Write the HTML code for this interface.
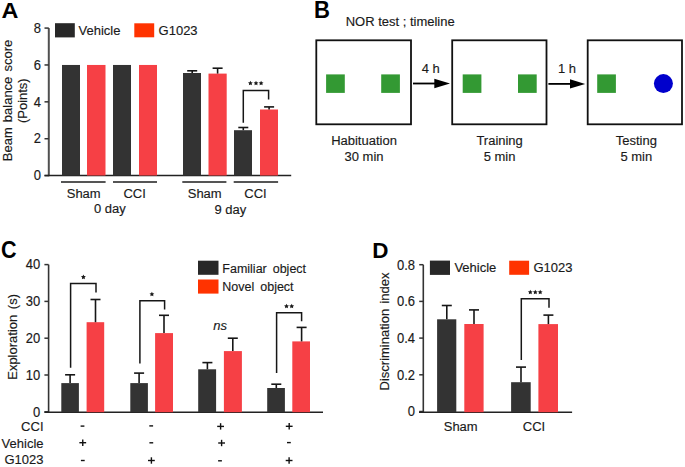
<!DOCTYPE html>
<html><head><meta charset="utf-8"><style>
html,body{margin:0;padding:0;background:#fff;}
body{width:685px;height:467px;overflow:hidden;}
svg{display:block;font-family:"Liberation Sans",sans-serif;}
text{stroke:#1a1a1a;stroke-width:0.15px;} text[font-weight="bold"]{stroke:none;}
</style></head><body>
<svg width="685" height="467" viewBox="0 0 685 467">
<rect width="685" height="467" fill="#fff"/>
<text transform="translate(1.60,17.80) scale(1.04,1.0)" font-size="22.5" text-anchor="start" font-weight="bold" font-style="normal" fill="#000" >A</text>
<line x1="48.80" y1="28.08" x2="48.80" y2="176.20" stroke="#505050" stroke-width="2.0"/>
<line x1="44.50" y1="175.60" x2="48.80" y2="175.60" stroke="#333333" stroke-width="1.5"/>
<text transform="translate(40.90,180.30) scale(1.0,1.08)" font-size="13" text-anchor="end" font-weight="normal" font-style="normal" fill="#1a1a1a" >0</text>
<line x1="44.50" y1="138.72" x2="48.80" y2="138.72" stroke="#333333" stroke-width="1.5"/>
<text transform="translate(40.90,143.42) scale(1.0,1.08)" font-size="13" text-anchor="end" font-weight="normal" font-style="normal" fill="#1a1a1a" >2</text>
<line x1="44.50" y1="101.84" x2="48.80" y2="101.84" stroke="#333333" stroke-width="1.5"/>
<text transform="translate(40.90,106.54) scale(1.0,1.08)" font-size="13" text-anchor="end" font-weight="normal" font-style="normal" fill="#1a1a1a" >4</text>
<line x1="44.50" y1="64.96" x2="48.80" y2="64.96" stroke="#333333" stroke-width="1.5"/>
<text transform="translate(40.90,69.66) scale(1.0,1.08)" font-size="13" text-anchor="end" font-weight="normal" font-style="normal" fill="#1a1a1a" >6</text>
<line x1="44.50" y1="28.08" x2="48.80" y2="28.08" stroke="#333333" stroke-width="1.5"/>
<text transform="translate(40.90,32.78) scale(1.0,1.08)" font-size="13" text-anchor="end" font-weight="normal" font-style="normal" fill="#1a1a1a" >8</text>
<line x1="44.50" y1="175.50" x2="291.20" y2="175.50" stroke="#222" stroke-width="1.4"/>
<rect x="62.00" y="64.96" width="18.00" height="110.54" fill="#333333"/>
<rect x="87.00" y="64.96" width="18.50" height="110.54" fill="#F64045"/>
<rect x="113.00" y="64.96" width="18.00" height="110.54" fill="#333333"/>
<rect x="139.00" y="64.96" width="18.00" height="110.54" fill="#F64045"/>
<rect x="183.00" y="73.00" width="18.00" height="102.50" fill="#333333"/>
<rect x="208.50" y="73.60" width="18.20" height="101.90" fill="#F64045"/>
<rect x="234.00" y="130.20" width="18.00" height="45.30" fill="#333333"/>
<rect x="260.00" y="109.50" width="18.00" height="66.00" fill="#F64045"/>
<line x1="192.20" y1="73.00" x2="192.20" y2="70.80" stroke="#161616" stroke-width="1.6"/>
<line x1="187.20" y1="70.80" x2="197.20" y2="70.80" stroke="#161616" stroke-width="1.6"/>
<line x1="217.60" y1="73.60" x2="217.60" y2="68.20" stroke="#161616" stroke-width="1.6"/>
<line x1="212.60" y1="68.20" x2="222.60" y2="68.20" stroke="#161616" stroke-width="1.6"/>
<line x1="243.30" y1="130.20" x2="243.30" y2="127.50" stroke="#161616" stroke-width="1.6"/>
<line x1="238.30" y1="127.50" x2="248.30" y2="127.50" stroke="#161616" stroke-width="1.6"/>
<line x1="269.10" y1="109.50" x2="269.10" y2="106.90" stroke="#161616" stroke-width="1.6"/>
<line x1="264.10" y1="106.90" x2="274.10" y2="106.90" stroke="#161616" stroke-width="1.6"/>
<polyline points="243.30,122.80 243.30,90.60 268.60,90.60 268.60,99.60" fill="none" stroke="#161616" stroke-width="1.5" stroke-linejoin="miter" stroke-linecap="butt"/>
<polygon points="250.40,80.65 251.15,82.17 252.83,82.41 251.61,83.59 251.90,85.26 250.40,84.48 248.90,85.26 249.19,83.59 247.97,82.41 249.65,82.17" fill="#1a1a1a"/>
<polygon points="256.00,80.65 256.75,82.17 258.43,82.41 257.21,83.59 257.50,85.26 256.00,84.48 254.50,85.26 254.79,83.59 253.57,82.41 255.25,82.17" fill="#1a1a1a"/>
<polygon points="261.10,80.65 261.85,82.17 263.53,82.41 262.31,83.59 262.60,85.26 261.10,84.48 259.60,85.26 259.89,83.59 258.67,82.41 260.35,82.17" fill="#1a1a1a"/>
<line x1="61.00" y1="182.00" x2="105.60" y2="182.00" stroke="#555" stroke-width="1.9"/>
<line x1="113.00" y1="182.00" x2="157.00" y2="182.00" stroke="#555" stroke-width="1.9"/>
<line x1="182.30" y1="182.00" x2="226.40" y2="182.00" stroke="#555" stroke-width="1.9"/>
<line x1="233.70" y1="182.00" x2="278.10" y2="182.00" stroke="#555" stroke-width="1.9"/>
<text transform="translate(83.70,197.50) scale(1.0,1.04)" font-size="13" text-anchor="middle" font-weight="normal" font-style="normal" fill="#1a1a1a" >Sham</text>
<text transform="translate(134.60,197.50) scale(1.0,1.04)" font-size="13" text-anchor="middle" font-weight="normal" font-style="normal" fill="#1a1a1a" >CCI</text>
<text transform="translate(204.70,197.50) scale(1.0,1.04)" font-size="13" text-anchor="middle" font-weight="normal" font-style="normal" fill="#1a1a1a" >Sham</text>
<text transform="translate(255.50,197.50) scale(1.0,1.04)" font-size="13" text-anchor="middle" font-weight="normal" font-style="normal" fill="#1a1a1a" >CCI</text>
<text transform="translate(109.80,213.30) scale(1.0,1.04)" font-size="13" text-anchor="middle" font-weight="normal" font-style="normal" fill="#1a1a1a" >0 day</text>
<text transform="translate(230.40,213.60) scale(1.0,1.04)" font-size="13" text-anchor="middle" font-weight="normal" font-style="normal" fill="#1a1a1a" >9 day</text>
<rect x="55.00" y="23.20" width="19.80" height="14.20" fill="#282828"/>
<text transform="translate(78.50,35.30) scale(1.0,1.04)" font-size="13" text-anchor="start" font-weight="normal" font-style="normal" fill="#1a1a1a" >Vehicle</text>
<rect x="134.30" y="23.30" width="19.90" height="14.00" fill="#FF3300"/>
<text transform="translate(158.60,35.20) scale(1.0,1.04)" font-size="13" text-anchor="start" font-weight="normal" font-style="normal" fill="#1a1a1a" >G1023</text>
<text transform="translate(11.80,100.50) rotate(-90) scale(1,1.04)" font-size="13" text-anchor="middle" fill="#1a1a1a" word-spacing="1.5">Beam balance score</text>
<text transform="translate(27.20,100.70) rotate(-90) scale(1,1.04)" font-size="13" text-anchor="middle" fill="#1a1a1a" >(Points)</text>
<text transform="translate(314.00,18.30) scale(0.94,1.0)" font-size="23.5" text-anchor="start" font-weight="bold" font-style="normal" fill="#000" >B</text>
<text transform="translate(345.70,25.50) scale(1.0,1.04)" font-size="13" text-anchor="start" font-weight="normal" font-style="normal" fill="#1a1a1a" >NOR test ; timeline</text>
<rect x="316.3" y="40.3" width="94.70" height="84" fill="none" stroke="#111" stroke-width="1.8"/>
<rect x="452.2" y="40.3" width="94.30" height="84" fill="none" stroke="#111" stroke-width="1.8"/>
<rect x="587.7" y="40.3" width="94.30" height="84" fill="none" stroke="#111" stroke-width="1.8"/>
<rect x="326.10" y="74.40" width="18.70" height="18.50" fill="#339933"/>
<rect x="381.20" y="74.40" width="18.70" height="18.50" fill="#339933"/>
<rect x="462.70" y="74.40" width="18.70" height="18.50" fill="#339933"/>
<rect x="518.00" y="74.40" width="18.70" height="18.50" fill="#339933"/>
<rect x="597.20" y="74.40" width="18.70" height="18.50" fill="#339933"/>
<circle cx="663.4" cy="83.6" r="9.5" fill="#0000CC"/>
<line x1="413.00" y1="83.50" x2="436.00" y2="83.50" stroke="#000" stroke-width="1.8"/>
<polygon points="434.3,78.8 450,83.5 434.3,88.2" fill="#000"/>
<line x1="548.40" y1="83.90" x2="571.00" y2="83.90" stroke="#000" stroke-width="1.8"/>
<polygon points="570,79.2 585.2,83.9 570,88.6" fill="#000"/>
<text transform="translate(430.70,72.70) scale(1.0,1.04)" font-size="13" text-anchor="middle" font-weight="normal" font-style="normal" fill="#1a1a1a" >4 h</text>
<text transform="translate(567.00,72.50) scale(1.0,1.04)" font-size="13" text-anchor="middle" font-weight="normal" font-style="normal" fill="#1a1a1a" >1 h</text>
<text transform="translate(364.00,145.20) scale(1.0,1.04)" font-size="13" text-anchor="middle" font-weight="normal" font-style="normal" fill="#1a1a1a" >Habituation</text>
<text transform="translate(364.00,161.10) scale(1.0,1.04)" font-size="13" text-anchor="middle" font-weight="normal" font-style="normal" fill="#1a1a1a" >30 min</text>
<text transform="translate(499.60,145.20) scale(1.0,1.04)" font-size="13" text-anchor="middle" font-weight="normal" font-style="normal" fill="#1a1a1a" >Training</text>
<text transform="translate(499.60,161.10) scale(1.0,1.04)" font-size="13" text-anchor="middle" font-weight="normal" font-style="normal" fill="#1a1a1a" >5 min</text>
<text transform="translate(636.30,145.20) scale(1.0,1.04)" font-size="13" text-anchor="middle" font-weight="normal" font-style="normal" fill="#1a1a1a" >Testing</text>
<text transform="translate(636.30,161.10) scale(1.0,1.04)" font-size="13" text-anchor="middle" font-weight="normal" font-style="normal" fill="#1a1a1a" >5 min</text>
<text transform="translate(1.10,257.90) scale(0.91,1.0)" font-size="23.7" text-anchor="start" font-weight="bold" font-style="normal" fill="#000" >C</text>
<line x1="48.60" y1="264.60" x2="48.60" y2="412.90" stroke="#333" stroke-width="1.6"/>
<line x1="44.40" y1="411.80" x2="48.60" y2="411.80" stroke="#333333" stroke-width="1.5"/>
<text transform="translate(40.30,416.60) scale(1.0,1.08)" font-size="13" text-anchor="end" font-weight="normal" font-style="normal" fill="#1a1a1a" >0</text>
<line x1="44.40" y1="375.00" x2="48.60" y2="375.00" stroke="#333333" stroke-width="1.5"/>
<text transform="translate(40.30,379.80) scale(1.0,1.08)" font-size="13" text-anchor="end" font-weight="normal" font-style="normal" fill="#1a1a1a" >10</text>
<line x1="44.40" y1="338.20" x2="48.60" y2="338.20" stroke="#333333" stroke-width="1.5"/>
<text transform="translate(40.30,343.00) scale(1.0,1.08)" font-size="13" text-anchor="end" font-weight="normal" font-style="normal" fill="#1a1a1a" >20</text>
<line x1="44.40" y1="301.40" x2="48.60" y2="301.40" stroke="#333333" stroke-width="1.5"/>
<text transform="translate(40.30,306.20) scale(1.0,1.08)" font-size="13" text-anchor="end" font-weight="normal" font-style="normal" fill="#1a1a1a" >30</text>
<line x1="44.40" y1="264.60" x2="48.60" y2="264.60" stroke="#333333" stroke-width="1.5"/>
<text transform="translate(40.30,269.40) scale(1.0,1.08)" font-size="13" text-anchor="end" font-weight="normal" font-style="normal" fill="#1a1a1a" >40</text>
<line x1="44.40" y1="412.20" x2="323.00" y2="412.20" stroke="#222" stroke-width="1.4"/>
<rect x="61.30" y="383.10" width="17.60" height="29.10" fill="#333333"/>
<rect x="86.60" y="322.20" width="17.60" height="90.00" fill="#F64045"/>
<rect x="130.30" y="383.10" width="17.60" height="29.10" fill="#333333"/>
<rect x="155.10" y="333.10" width="17.90" height="79.10" fill="#F64045"/>
<rect x="198.20" y="369.30" width="17.90" height="42.90" fill="#333333"/>
<rect x="223.90" y="351.10" width="18.00" height="61.10" fill="#F64045"/>
<rect x="267.20" y="388.00" width="17.70" height="24.20" fill="#333333"/>
<rect x="292.30" y="341.40" width="17.70" height="70.80" fill="#F64045"/>
<line x1="70.10" y1="383.10" x2="70.10" y2="374.80" stroke="#161616" stroke-width="1.6"/>
<line x1="65.10" y1="374.80" x2="75.10" y2="374.80" stroke="#161616" stroke-width="1.6"/>
<line x1="95.50" y1="322.20" x2="95.50" y2="299.50" stroke="#161616" stroke-width="1.6"/>
<line x1="90.50" y1="299.50" x2="100.50" y2="299.50" stroke="#161616" stroke-width="1.6"/>
<line x1="139.10" y1="383.10" x2="139.10" y2="373.10" stroke="#161616" stroke-width="1.6"/>
<line x1="134.10" y1="373.10" x2="144.10" y2="373.10" stroke="#161616" stroke-width="1.6"/>
<line x1="164.00" y1="333.10" x2="164.00" y2="315.30" stroke="#161616" stroke-width="1.6"/>
<line x1="159.00" y1="315.30" x2="169.00" y2="315.30" stroke="#161616" stroke-width="1.6"/>
<line x1="207.40" y1="369.30" x2="207.40" y2="362.60" stroke="#161616" stroke-width="1.6"/>
<line x1="202.40" y1="362.60" x2="212.40" y2="362.60" stroke="#161616" stroke-width="1.6"/>
<line x1="232.80" y1="351.10" x2="232.80" y2="338.20" stroke="#161616" stroke-width="1.6"/>
<line x1="227.80" y1="338.20" x2="237.80" y2="338.20" stroke="#161616" stroke-width="1.6"/>
<line x1="276.30" y1="388.00" x2="276.30" y2="384.20" stroke="#161616" stroke-width="1.6"/>
<line x1="271.30" y1="384.20" x2="281.30" y2="384.20" stroke="#161616" stroke-width="1.6"/>
<line x1="301.60" y1="341.40" x2="301.60" y2="327.40" stroke="#161616" stroke-width="1.6"/>
<line x1="296.60" y1="327.40" x2="306.60" y2="327.40" stroke="#161616" stroke-width="1.6"/>
<polyline points="70.60,367.80 70.60,283.50 96.00,283.50 96.00,292.40" fill="none" stroke="#161616" stroke-width="1.5" stroke-linejoin="miter" stroke-linecap="butt"/>
<polyline points="139.90,363.60 139.90,300.80 164.60,300.80 164.60,309.60" fill="none" stroke="#161616" stroke-width="1.5" stroke-linejoin="miter" stroke-linecap="butt"/>
<polyline points="276.60,372.90 276.60,312.70 301.60,312.70 301.60,321.20" fill="none" stroke="#161616" stroke-width="1.5" stroke-linejoin="miter" stroke-linecap="butt"/>
<polygon points="83.40,274.55 84.15,276.07 85.83,276.31 84.61,277.49 84.90,279.16 83.40,278.38 81.90,279.16 82.19,277.49 80.97,276.31 82.65,276.07" fill="#1a1a1a"/>
<polygon points="151.90,291.65 152.65,293.17 154.33,293.41 153.11,294.59 153.40,296.26 151.90,295.47 150.40,296.26 150.69,294.59 149.47,293.41 151.15,293.17" fill="#1a1a1a"/>
<polygon points="286.50,303.75 287.25,305.27 288.93,305.51 287.71,306.69 288.00,308.36 286.50,307.57 285.00,308.36 285.29,306.69 284.07,305.51 285.75,305.27" fill="#1a1a1a"/>
<polygon points="291.70,303.75 292.45,305.27 294.13,305.51 292.91,306.69 293.20,308.36 291.70,307.57 290.20,308.36 290.49,306.69 289.27,305.51 290.95,305.27" fill="#1a1a1a"/>
<text transform="translate(220.20,329.80) scale(1.0,1.04)" font-size="13" text-anchor="middle" font-weight="normal" font-style="italic" fill="#1a1a1a" >ns</text>
<rect x="198.00" y="260.70" width="20.50" height="14.10" fill="#282828"/>
<rect x="198.00" y="279.50" width="20.50" height="14.10" fill="#FF3300"/>
<text transform="translate(222.30,272.60) scale(0.962,1.04)" font-size="13" text-anchor="start" font-weight="normal" font-style="normal" fill="#1a1a1a" word-spacing="2.6">Familiar object</text>
<text transform="translate(222.30,290.90) scale(0.962,1.04)" font-size="13" text-anchor="start" font-weight="normal" font-style="normal" fill="#1a1a1a" word-spacing="2.6">Novel object</text>
<text transform="translate(17.30,336.90) rotate(-90) scale(1,1.04)" font-size="13" text-anchor="middle" fill="#1a1a1a" word-spacing="2">Exploration (s)</text>
<text transform="translate(43.50,430.70) scale(1.0,1.04)" font-size="13" text-anchor="end" font-weight="normal" font-style="normal" fill="#1a1a1a" >CCI</text>
<text transform="translate(43.50,447.90) scale(1.0,1.04)" font-size="13" text-anchor="end" font-weight="normal" font-style="normal" fill="#1a1a1a" >Vehicle</text>
<text transform="translate(43.50,464.20) scale(1.0,1.04)" font-size="13" text-anchor="end" font-weight="normal" font-style="normal" fill="#1a1a1a" >G1023</text>
<line x1="80.60" y1="426.10" x2="84.40" y2="426.10" stroke="#111" stroke-width="1.4"/>
<line x1="79.35" y1="442.70" x2="86.15" y2="442.70" stroke="#111" stroke-width="1.4"/>
<line x1="82.75" y1="439.50" x2="82.75" y2="445.90" stroke="#111" stroke-width="1.4"/>
<line x1="80.90" y1="460.50" x2="84.70" y2="460.50" stroke="#111" stroke-width="1.4"/>
<line x1="149.30" y1="425.90" x2="153.10" y2="425.90" stroke="#111" stroke-width="1.4"/>
<line x1="149.40" y1="442.80" x2="153.20" y2="442.80" stroke="#111" stroke-width="1.4"/>
<line x1="148.00" y1="460.50" x2="154.80" y2="460.50" stroke="#111" stroke-width="1.4"/>
<line x1="151.40" y1="457.30" x2="151.40" y2="463.70" stroke="#111" stroke-width="1.4"/>
<line x1="217.20" y1="426.40" x2="224.00" y2="426.40" stroke="#111" stroke-width="1.4"/>
<line x1="220.60" y1="423.20" x2="220.60" y2="429.60" stroke="#111" stroke-width="1.4"/>
<line x1="218.20" y1="443.00" x2="225.00" y2="443.00" stroke="#111" stroke-width="1.4"/>
<line x1="221.60" y1="439.80" x2="221.60" y2="446.20" stroke="#111" stroke-width="1.4"/>
<line x1="218.10" y1="460.80" x2="221.90" y2="460.80" stroke="#111" stroke-width="1.4"/>
<line x1="285.80" y1="426.30" x2="292.60" y2="426.30" stroke="#111" stroke-width="1.4"/>
<line x1="289.20" y1="423.10" x2="289.20" y2="429.50" stroke="#111" stroke-width="1.4"/>
<line x1="287.00" y1="442.60" x2="290.80" y2="442.60" stroke="#111" stroke-width="1.4"/>
<line x1="285.70" y1="460.50" x2="292.50" y2="460.50" stroke="#111" stroke-width="1.4"/>
<line x1="289.10" y1="457.30" x2="289.10" y2="463.70" stroke="#111" stroke-width="1.4"/>
<text transform="translate(372.20,258.00) scale(0.98,1.0)" font-size="22.9" text-anchor="start" font-weight="bold" font-style="normal" fill="#000" >D</text>
<line x1="423.30" y1="264.70" x2="423.30" y2="412.90" stroke="#333" stroke-width="1.6"/>
<line x1="419.20" y1="411.50" x2="423.30" y2="411.50" stroke="#333333" stroke-width="1.5"/>
<text transform="translate(415.00,416.30) scale(1.0,1.08)" font-size="13" text-anchor="end" font-weight="normal" font-style="normal" fill="#1a1a1a" >0</text>
<line x1="419.20" y1="374.80" x2="423.30" y2="374.80" stroke="#333333" stroke-width="1.5"/>
<text transform="translate(415.00,379.60) scale(1.0,1.08)" font-size="13" text-anchor="end" font-weight="normal" font-style="normal" fill="#1a1a1a" >0.2</text>
<line x1="419.20" y1="338.10" x2="423.30" y2="338.10" stroke="#333333" stroke-width="1.5"/>
<text transform="translate(415.00,342.90) scale(1.0,1.08)" font-size="13" text-anchor="end" font-weight="normal" font-style="normal" fill="#1a1a1a" >0.4</text>
<line x1="419.20" y1="301.40" x2="423.30" y2="301.40" stroke="#333333" stroke-width="1.5"/>
<text transform="translate(415.00,306.20) scale(1.0,1.08)" font-size="13" text-anchor="end" font-weight="normal" font-style="normal" fill="#1a1a1a" >0.6</text>
<line x1="419.20" y1="264.70" x2="423.30" y2="264.70" stroke="#333333" stroke-width="1.5"/>
<text transform="translate(415.00,269.50) scale(1.0,1.08)" font-size="13" text-anchor="end" font-weight="normal" font-style="normal" fill="#1a1a1a" >0.8</text>
<line x1="419.00" y1="412.20" x2="572.10" y2="412.20" stroke="#222" stroke-width="1.4"/>
<rect x="437.10" y="319.30" width="19.20" height="92.90" fill="#333333"/>
<rect x="464.30" y="324.00" width="19.30" height="88.20" fill="#F64045"/>
<rect x="511.10" y="382.20" width="19.60" height="30.00" fill="#333333"/>
<rect x="538.40" y="324.10" width="19.60" height="88.10" fill="#F64045"/>
<line x1="446.80" y1="319.30" x2="446.80" y2="305.50" stroke="#161616" stroke-width="1.6"/>
<line x1="441.80" y1="305.50" x2="451.80" y2="305.50" stroke="#161616" stroke-width="1.6"/>
<line x1="474.00" y1="324.00" x2="474.00" y2="309.90" stroke="#161616" stroke-width="1.6"/>
<line x1="469.00" y1="309.90" x2="479.00" y2="309.90" stroke="#161616" stroke-width="1.6"/>
<line x1="521.00" y1="382.20" x2="521.00" y2="367.10" stroke="#161616" stroke-width="1.6"/>
<line x1="516.00" y1="367.10" x2="526.00" y2="367.10" stroke="#161616" stroke-width="1.6"/>
<line x1="548.40" y1="324.10" x2="548.40" y2="315.10" stroke="#161616" stroke-width="1.6"/>
<line x1="543.40" y1="315.10" x2="553.40" y2="315.10" stroke="#161616" stroke-width="1.6"/>
<polyline points="521.30,359.90 521.30,298.70 549.00,298.70 549.00,307.80" fill="none" stroke="#161616" stroke-width="1.5" stroke-linejoin="miter" stroke-linecap="butt"/>
<polygon points="530.30,289.65 531.05,291.17 532.73,291.41 531.51,292.59 531.80,294.26 530.30,293.47 528.80,294.26 529.09,292.59 527.87,291.41 529.55,291.17" fill="#1a1a1a"/>
<polygon points="535.30,289.65 536.05,291.17 537.73,291.41 536.51,292.59 536.80,294.26 535.30,293.47 533.80,294.26 534.09,292.59 532.87,291.41 534.55,291.17" fill="#1a1a1a"/>
<polygon points="540.20,289.65 540.95,291.17 542.63,291.41 541.41,292.59 541.70,294.26 540.20,293.47 538.70,294.26 538.99,292.59 537.77,291.41 539.45,291.17" fill="#1a1a1a"/>
<rect x="429.90" y="260.60" width="20.10" height="14.30" fill="#282828"/>
<text transform="translate(454.40,272.40) scale(1.0,1.04)" font-size="13" text-anchor="start" font-weight="normal" font-style="normal" fill="#1a1a1a" >Vehicle</text>
<rect x="509.20" y="260.70" width="19.90" height="14.10" fill="#FF3300"/>
<text transform="translate(533.50,272.40) scale(1.0,1.04)" font-size="13" text-anchor="start" font-weight="normal" font-style="normal" fill="#1a1a1a" >G1023</text>
<text transform="translate(389.30,331.50) rotate(-90) scale(1,1.04)" font-size="13" text-anchor="middle" fill="#1a1a1a" word-spacing="1.7">Discrimination index</text>
<text transform="translate(460.70,430.50) scale(1.0,1.04)" font-size="13" text-anchor="middle" font-weight="normal" font-style="normal" fill="#1a1a1a" >Sham</text>
<text transform="translate(534.00,430.50) scale(1.0,1.04)" font-size="13" text-anchor="middle" font-weight="normal" font-style="normal" fill="#1a1a1a" >CCI</text>
</svg>
</body></html>
